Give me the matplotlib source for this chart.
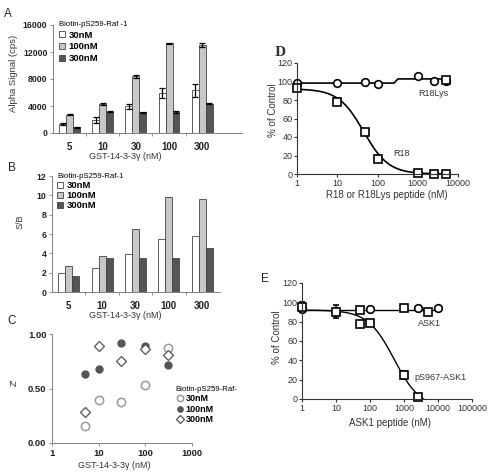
import numpy as np
import matplotlib.pyplot as plt

plt.rcParams['font.family'] = ['Liberation Sans', 'DejaVu Sans']

## data
gst = ['5', '10', '30', '100', '300']
gst_nM = [5, 10, 30, 100, 300]
raf_conc = ['30nM', '100nM', '300nM']

# A : alpha signal (cps)
alpha_30 = [1300, 1950, 3950, 5950, 6300]
alpha_100 = [2700, 4250, 8400, 13300, 13100]
alpha_300 = [850, 3150, 3050, 3150, 4350]
alpha_30_err = [120, 400, 350, 750, 900]
alpha_100_err = [100, 150, 250, 80, 300]
alpha_300_err = [40, 80, 60, 150, 80]

# B : S/B
sb_30 = [1.95, 2.45, 3.9, 5.5, 5.8]
sb_100 = [2.7, 3.75, 6.55, 9.8, 9.65]
sb_300 = [1.65, 3.55, 3.5, 3.55, 4.55]

# C : Z'
z_30 = [0.16, 0.39, 0.38, 0.53, 0.87]
z_100 = [0.63, 0.68, 0.92, 0.89, 0.72]
z_300 = [0.28, 0.89, 0.75, 0.86, 0.81]

# D : R18 / R18Lys
r18_x = [1, 10, 50, 100, 1000, 2500, 5000]
r18_y = [93, 78, 45, 16, 1, 0.5, 0.5]
r18lys_x = [1, 10, 50, 100, 1000, 2500, 5000]
r18lys_y = [98, 98, 99.5, 97.5, 106, 101, 101]
r18lys_sq_x = [5000]
r18lys_sq_y = [102]
r18_fit = dict(top=92, bottom=0, ic50=45, hill=1.4, xmax=5000)
r18lys_fit_x = [1, 260, 320, 5000]
r18lys_fit_y = [98.3, 98.3, 102.8, 102.8]

# E : ASK1 / pS967-ASK1
ask1_x = [1, 10, 100, 2500, 10000]
ask1_y = [93, 91, 93, 94, 94]
ask1_sq_x = [50, 1000, 5000]
ask1_sq_y = [92, 94, 90]
ask1_sq_err = [3, 3, 2]
ps967_x = [1, 10, 50, 100, 1000, 2500]
ps967_y = [95, 90.5, 78, 79, 25, 2.5]
ps967_err = [5, 7, 0, 0, 4, 0]
ask1_fit = dict(level=92.5, xmax=10000)
ps967_fit = dict(top=92, bottom=-10, ic50=515, hill=1.12, xmax=4600)


def logistic(x, p):
    return p['bottom'] + (p['top'] - p['bottom']) / (1 + (x / p['ic50'])**p['hill'])


W, H = 490, 476
fig = plt.figure(figsize=(W/100, H/100), dpi=100)

def px_axes(l, t, r, b):
    return fig.add_axes([l/W, 1-b/H, (r-l)/W, (b-t)/H])

def ftext(x, y, s, **kw):
    return fig.text(x/W, 1-y/H, s, **kw)

grey = '#808080'
tcol = '#222222'
lcol = '#333333'
bar_cols = ['white', '#c8c8c8', '#555555']


def bar_panel(ax, series, errs, ymax, ystep, xmax):
    x = np.arange(len(gst))
    w = 0.21
    for k, vals in enumerate(series):
        kw = {}
        if errs is not None:
            kw = dict(yerr=errs[k], error_kw=dict(ecolor='black', elinewidth=0.9, capsize=2.2, capthick=0.9))
        ax.bar(x + (k-1)*w, vals, w, color=bar_cols[k], edgecolor='#444444', lw=0.6,
               label=raf_conc[k], **kw)
    ax.set_xlim(-0.5, xmax)
    ax.set_ylim(0, ymax)
    ax.set_yticks(np.arange(0, ymax+1e-9, ystep))
    ax.set_xticks(x)
    ax.set_xticklabels(gst)
    ax.set_xticks(x[:-1] + 0.5, minor=True)
    ax.tick_params(axis='x', which='major', length=0, pad=6.5, labelsize=7, colors=tcol)
    ax.tick_params(axis='x', which='minor', length=2, color=grey, width=0.6)
    ax.tick_params(axis='y', length=2, width=0.6, color=grey, pad=2, labelsize=6.3, colors=tcol)
    for s in ['top', 'right']:
        ax.spines[s].set_visible(False)
    for s in ['left', 'bottom']:
        ax.spines[s].set_color(grey)
        ax.spines[s].set_linewidth(0.7)
    for lab in ax.get_xticklabels() + ax.get_yticklabels():
        lab.set_fontweight('bold')


leg_kw = dict(bbox_transform=fig.transFigure, frameon=False, borderpad=0, borderaxespad=0,
              loc='upper left', alignment='left', title_fontsize=5.6)

## A
axA = px_axes(53, 25, 242, 133)
bar_panel(axA, [alpha_30, alpha_100, alpha_300], [alpha_30_err, alpha_100_err, alpha_300_err],
          16000, 4000, 5.2)
axA.legend(title='Biotin-pS259-Raf -1', bbox_to_anchor=(59/W, 1-21/H),
           handlelength=0.6, handleheight=0.6, handletextpad=0.4, labelspacing=0.28,
           prop={'weight': 'bold', 'size': 6.8}, **leg_kw)
ftext(13, 73, 'Alpha Signal (cps)', rotation=90, ha='center', va='center', fontsize=6.8, color=lcol)
ftext(125, 157, 'GST-14-3-3γ (nM)', ha='center', va='center', fontsize=6.5, color=lcol)
ftext(8, 14, 'A', ha='center', va='center', fontsize=8.5, color=tcol)

## B
axB = px_axes(52, 176, 220, 292)
bar_panel(axB, [sb_30, sb_100, sb_300], None, 12, 2, 4.53)
axB.legend(title='Biotin-pS259-Raf-1', bbox_to_anchor=(57/W, 1-173/H),
           handlelength=0.6, handleheight=0.6, handletextpad=0.4, labelspacing=0.12,
           prop={'weight': 'bold', 'size': 6.8}, **leg_kw)
ftext(20, 222, 'S/B', rotation=90, ha='center', va='center', fontsize=6.5, color=lcol)
ftext(125, 316, 'GST-14-3-3γ (nM)', ha='center', va='center', fontsize=6.5, color=lcol)
ftext(12, 168, 'B', ha='center', va='center', fontsize=8.5, color=tcol)

## C
axC = px_axes(52, 334, 192, 443)
axC.set_xscale('log')
axC.plot(gst_nM, z_30, 'o', ms=6, mfc='white', mec='#999999', mew=1.1, label=raf_conc[0], clip_on=False)
axC.plot(gst_nM, z_100, 'o', ms=5, mfc='#555555', mec='#555555', label=raf_conc[1], clip_on=False)
axC.plot(gst_nM, z_300, 'D', ms=5, mfc='white', mec='#555555', mew=0.9, label=raf_conc[2], clip_on=False)
axC.set_xlim(1, 1000)
axC.set_ylim(0, 1)
axC.set_xticks([1, 10, 100, 1000])
axC.set_xticklabels(['1', '10', '100', '1000'])
axC.xaxis.set_minor_locator(plt.NullLocator())
axC.set_yticks([0, 0.5, 1.0])
axC.set_yticklabels(['0.00', '0.50', '1.00'])
axC.tick_params(length=2, width=0.6, color=grey, pad=2, labelsize=6.8, colors=tcol)
for s in ['top', 'right']:
    axC.spines[s].set_visible(False)
for s in ['left', 'bottom']:
    axC.spines[s].set_color(grey)
    axC.spines[s].set_linewidth(0.7)
for lab in axC.get_xticklabels() + axC.get_yticklabels():
    lab.set_fontweight('bold')
axC.legend(title='Biotin-pS259-Raf-', bbox_to_anchor=(175/W, 1-386/H),
           handlelength=1.0, handletextpad=0.2, labelspacing=0.15, markerscale=0.75,
           prop={'weight': 'bold', 'size': 6.5}, **leg_kw)
ftext(14, 382, "Z'", rotation=90, ha='center', va='center', fontsize=6.5, color=lcol)
ftext(114, 466, 'GST-14-3-3γ (nM)', ha='center', va='center', fontsize=6.5, color=lcol)
ftext(12, 321, 'C', ha='center', va='center', fontsize=8.5, color=tcol)


def curve_panel(ax, xmax, xticks):
    ax.set_xscale('log')
    ax.set_xlim(1, xmax)
    ax.set_ylim(0, 120)
    ax.set_yticks(np.arange(0, 121, 20))
    ax.set_xticks(xticks)
    ax.set_xticklabels([str(t) for t in xticks])
    ax.xaxis.set_minor_locator(plt.NullLocator())
    ax.tick_params(length=2.5, width=0.8, color=lcol, pad=0.8, labelsize=6.5, colors=lcol)
    for s in ['top', 'right']:
        ax.spines[s].set_visible(False)
    for s in ['left', 'bottom']:
        ax.spines[s].set_color(lcol)
        ax.spines[s].set_linewidth(0.8)


mk = dict(ms=5.5, mfc='white', mec='black', mew=1.2, ls='none', clip_on=False)

## D
axD = px_axes(297, 63, 458, 174)
curve_panel(axD, 10000, [1, 10, 100, 1000, 10000])
xs = np.logspace(0, np.log10(r18_fit['xmax']), 200)
axD.plot(xs, logistic(xs, r18_fit), color='black', lw=1.2)
axD.plot(r18lys_fit_x, r18lys_fit_y, color='black', lw=1.2)
axD.plot(r18lys_x, r18lys_y, 'o', **mk)
axD.plot(r18lys_sq_x, r18lys_sq_y, 's', **mk)
axD.plot(r18_x, r18_y, 's', **mk)
ftext(433, 93, 'R18Lys', ha='center', va='center', fontsize=6.5, color=lcol)
ftext(402, 154, 'R18', ha='center', va='center', fontsize=6.5, color=lcol)
ftext(273, 110, '% of Control', rotation=90, ha='center', va='center', fontsize=7, color=lcol)
ftext(387, 195, 'R18 or R18Lys peptide (nM)', ha='center', va='center', fontsize=7, color=lcol)
ftext(280, 53, 'D', ha='center', va='center', fontsize=9, family='serif', fontweight='bold', color=lcol)

## E
axE = px_axes(302, 283, 472, 399)
curve_panel(axE, 100000, [1, 10, 100, 1000, 10000, 100000])
axE.axhline(ask1_fit['level'], xmin=0, xmax=np.log10(ask1_fit['xmax'])/5, color='black', lw=1.0)
xs = np.logspace(0, np.log10(ps967_fit['xmax']), 200)
axE.plot(xs, logistic(xs, ps967_fit), color='black', lw=1.0)
eb = dict(fmt='s', ms=5.5, mfc='white', mec='black', mew=1.2, ecolor='black', elinewidth=1.2,
          capsize=2.5, capthick=1.2, clip_on=False)
axE.errorbar(ps967_x, ps967_y, yerr=ps967_err, **eb)
axE.errorbar(ask1_sq_x, ask1_sq_y, yerr=ask1_sq_err, **eb)
axE.plot(ask1_x, ask1_y, 'o', **mk)
ftext(429, 323, 'ASK1', ha='center', va='center', fontsize=6.5, color=lcol)
ftext(440, 378, 'pS967-ASK1', ha='center', va='center', fontsize=6.5, color=lcol)
ftext(277, 337, '% of Control', rotation=90, ha='center', va='center', fontsize=7, color=lcol)
ftext(390, 423, 'ASK1 peptide (nM)', ha='center', va='center', fontsize=7, color=lcol)
ftext(265, 279, 'E', ha='center', va='center', fontsize=8.5, color=tcol)

fig.savefig('out.png', dpi=100)
